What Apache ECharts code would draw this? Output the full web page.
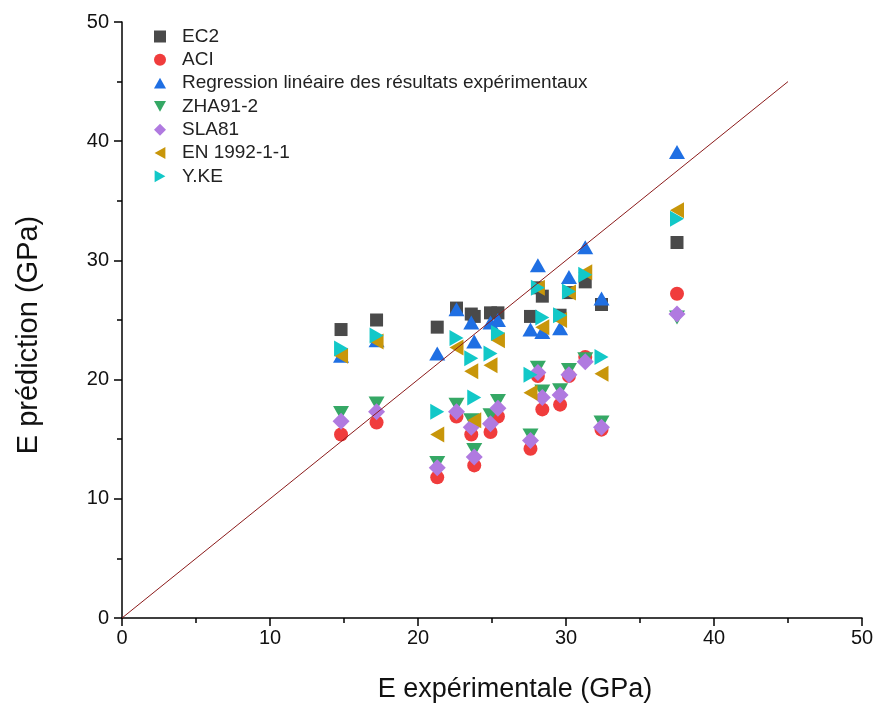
<!DOCTYPE html>
<html><head><meta charset="utf-8">
<script src="https://cdn.jsdelivr.net/npm/echarts@6/dist/echarts.min.js"></script>
<style>html,body{margin:0;padding:0;background:#fff}#c{width:880px;height:714px}</style>
</head><body><div id="c"></div>
<script>
const expE = [14.8, 17.2, 21.3, 22.6, 23.6, 23.8, 24.9, 25.4, 27.6, 28.1, 28.4, 29.6, 30.2, 31.3, 32.4, 37.5];
const ec2  = [24.2, 25.0, 24.4, 26.0, 25.5, 25.3, 25.6, 25.6, 25.3, 27.7, 27.0, 25.4, 27.3, 28.2, 26.3, 31.5];
const aci  = [15.4, 16.4, 11.8, 16.9, 15.4, 12.8, 15.6, 16.9, 14.2, 20.3, 17.5, 17.9, 20.3, 21.9, 15.8, 27.2];
const reg  = [22.0, 23.3, 22.2, 25.9, 24.8, 23.2, 24.8, 25.0, 24.2, 29.6, 24.0, 24.3, 28.6, 31.1, 26.8, 39.1];
const zha  = [17.2, 18.0, 13.0, 17.9, 16.6, 14.1, 17.0, 18.2, 15.3, 21.0, 19.0, 19.1, 20.8, 21.7, 16.4, 25.2];
const sla  = [16.5, 17.3, 12.6, 17.3, 16.0, 13.5, 16.3, 17.6, 14.9, 20.6, 18.5, 18.7, 20.4, 21.5, 16.0, 25.5];
const en   = [22.0, 23.2, 15.4, 22.7, 20.7, 16.6, 21.2, 23.3, 18.9, 27.7, 24.4, 25.0, 27.3, 29.0, 20.5, 34.2];
const yke  = [22.6, 23.7, 17.3, 23.5, 21.8, 18.5, 22.2, 23.9, 20.4, 27.7, 25.2, 25.4, 27.4, 28.8, 21.9, 33.5];
const names = ['EC2', 'ACI', 'Regression linéaire des résultats expérimentaux', 'ZHA91-2', 'SLA81', 'EN 1992-1-1', 'Y.KE'];
const refLine = [[0, 0], [45, 45]];

const colors = ['#4a4a4a', '#f03c3c', '#1f6fe3', '#35a865', '#b07ae0', '#c8960a', '#12c8c8'];
const symbols = ['rect', 'circle', 'path://M5,0L10,9L0,9Z', 'path://M0,0L10,0L5,9Z', 'diamond',
                 'path://M9,0L9,10L0,5Z', 'path://M0,0L0,10L9,5Z'];
const sizes = [13, 14, [16, 14], [16, 14], 17, [14, 16], [14, 16]];
const vals = [ec2, aci, reg, zha, sla, en, yke];

const font = 'Liberation Sans, Arial, sans-serif';
const series = vals.map((v, i) => ({
  name: names[i], type: 'scatter',
  data: expE.map((x, k) => [x, v[k]]),
  symbol: symbols[i], symbolSize: sizes[i],
  itemStyle: { color: colors[i], opacity: 1 },
  emphasis: { disabled: true }
}));
series.push({
  name: 'ref', type: 'line', data: refLine, showSymbol: false, symbol: 'none',
  lineStyle: { color: '#8b1a1a', width: 1 }, z: 5, silent: true
});

const chart = echarts.init(document.getElementById('c'), null, { renderer: 'canvas' });
chart.setOption({
  animation: false,
  backgroundColor: '#fff',
  grid: { left: 122, right: 18, top: 22, bottom: 96 },
  legend: {
    data: names.map((n, i) => ({ name: n, icon: symbols[i] })),
    orient: 'vertical', left: 149, top: 22,
    itemWidth: 12, itemHeight: 12, itemGap: 4.3,
    textStyle: { fontFamily: font, fontSize: 19, lineHeight: 19, color: '#222', padding: [0, 0, 0, 11] }
  },
  graphic: [{
    type: 'text',
    rotation: Math.PI / 2,
    x: 29, y: 335,
    style: { text: 'E prédiction (GPa)', font: '29px ' + font, fill: '#111', textAlign: 'center', textVerticalAlign: 'middle' }
  }],
  xAxis: {
    type: 'value', min: 0, max: 50, interval: 10,
    name: 'E expérimentale (GPa)', nameLocation: 'middle', nameGap: 58,
    nameTextStyle: { fontFamily: font, fontSize: 27, color: '#111', padding: [0, 0, 0, 46] },
    axisLine: { onZero: false, lineStyle: { color: '#000', width: 1.5 } },
    axisTick: { length: 8, lineStyle: { color: '#000', width: 1.5 } },
    minorTick: { show: true, splitNumber: 2, length: 5, lineStyle: { color: '#000', width: 1.5 } },
    splitLine: { show: false },
    axisLabel: { fontFamily: font, fontSize: 20, color: '#111', margin: 10 }
  },
  yAxis: {
    type: 'value', min: 0, max: 50, interval: 10,
    axisLine: { show: true, onZero: false, lineStyle: { color: '#000', width: 1.5 } },
    axisTick: { show: true, length: 8, lineStyle: { color: '#000', width: 1.5 } },
    minorTick: { show: true, splitNumber: 2, length: 5, lineStyle: { color: '#000', width: 1.5 } },
    splitLine: { show: false },
    axisLabel: { fontFamily: font, fontSize: 20, color: '#111', margin: 13 }
  },
  series: series
});
</script></body></html>
